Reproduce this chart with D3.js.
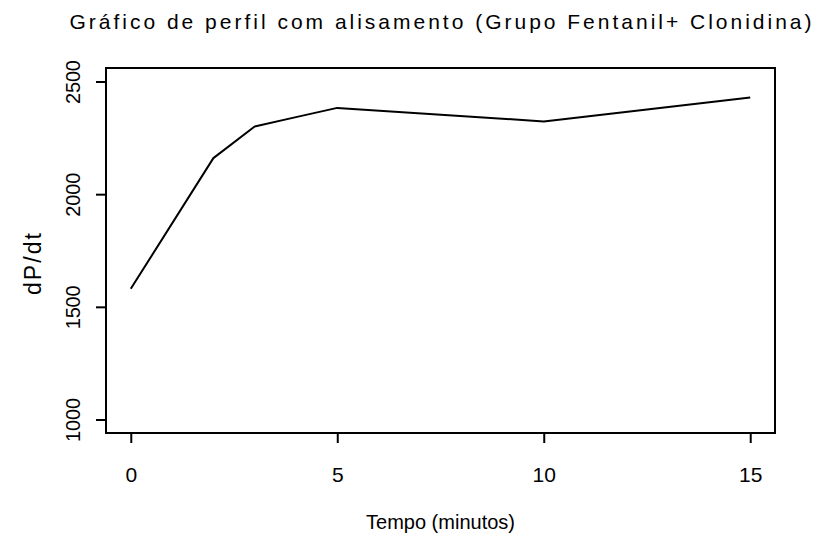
<!DOCTYPE html>
<html>
<head>
<meta charset="utf-8">
<script src="https://cdn.jsdelivr.net/npm/d3@7"></script>
<style>
	body { margin: 0; background: #fff; }
	text { font-family: "Liberation Sans", Arial, sans-serif; fill: #000; }
</style>
</head>
<body>
<div id="chart"></div>
<script>
// smoothed profile
var tempo = [0, 2, 3, 4, 5, 10, 15];
var dpdt = [1580, 2160, 2300, 2342, 2383, 2323, 2429];
var xTicks = [0, 5, 10, 15];
var yTicks = [1000, 1500, 2000, 2500];

var titulo = "Gráfico de perfil com alisamento (Grupo Fentanil+ Clonidina)";
var xTitulo = "Tempo (minutos)";
var yTitulo = "dP/dt";

var W = 818, H = 536;
var margin = {top: 68, right: 43, bottom: 103, left: 106};
var width = W - margin.left - margin.right,
	height = H - margin.top - margin.bottom;
var tickLen = 10;

var svg = d3.select("#chart").append("svg")
	.attr("width", W)
	.attr("height", H);

var g = svg.append("g")
	.attr("transform", "translate(" + margin.left + "," + margin.top + ")");

// R style: range padded 4% each side
var x = d3.scaleLinear().domain([-0.6, 15.6]).range([0, width]);
var y = d3.scaleLinear().domain([940, 2560]).range([height, 0]);

var data = tempo.map(function(t, i) { return {t: t, v: dpdt[i]}; });

// x axis
var xAxis = g.append("g")
	.attr("transform", "translate(0," + height + ")")
	.call(d3.axisBottom(x).tickValues(xTicks).tickFormat(d3.format("d"))
		.tickSize(tickLen).tickSizeOuter(0).tickPadding(24));
xAxis.select(".domain").remove();
xAxis.selectAll(".tick line").attr("stroke", "#000").attr("stroke-width", 2);
xAxis.selectAll(".tick text").style("font-size", "21px");

// y axis, labels turned like in R (las=0)
var yAxis = g.append("g")
	.call(d3.axisLeft(y).tickValues(yTicks).tickFormat(d3.format("d"))
		.tickSize(tickLen).tickSizeOuter(0));
yAxis.select(".domain").remove();
yAxis.selectAll(".tick line").attr("stroke", "#000").attr("stroke-width", 2);
yAxis.selectAll(".tick text")
	.attr("transform", "rotate(-90)")
	.attr("x", 0)
	.attr("y", -26)
	.attr("dy", 0)
	.attr("text-anchor", "middle")
	.style("font-size", "20px")
	.attr("textLength", 44)
	.attr("lengthAdjust", "spacing");

// frame
g.append("rect")
	.attr("x", 0).attr("y", 0)
	.attr("width", width).attr("height", height)
	.attr("fill", "none")
	.attr("stroke", "#000")
	.attr("stroke-width", 2);

// the profile
var line = d3.line()
	.x(function(d) { return x(d.t); })
	.y(function(d) { return y(d.v); });

g.append("path")
	.datum(data)
	.attr("d", line)
	.attr("fill", "none")
	.attr("stroke", "#000")
	.attr("stroke-width", 2)
	.attr("stroke-linejoin", "round");

// titles
svg.append("text")
	.attr("x", margin.left + width / 2)
	.attr("y", 29)
	.attr("text-anchor", "middle")
	.style("font-size", "21px")
	.attr("textLength", 742)
	.attr("lengthAdjust", "spacing")
	.text(titulo);

svg.append("text")
	.attr("x", margin.left + width / 2)
	.attr("y", 529)
	.attr("text-anchor", "middle")
	.style("font-size", "20px")
	.text(xTitulo);

svg.append("text")
	.attr("transform", "translate(41," + 264 + ") rotate(-90)")
	.attr("text-anchor", "middle")
	.style("font-size", "23px")
	.attr("textLength", 62)
	.attr("lengthAdjust", "spacing")
	.text(yTitulo);
</script>
</body>
</html>
